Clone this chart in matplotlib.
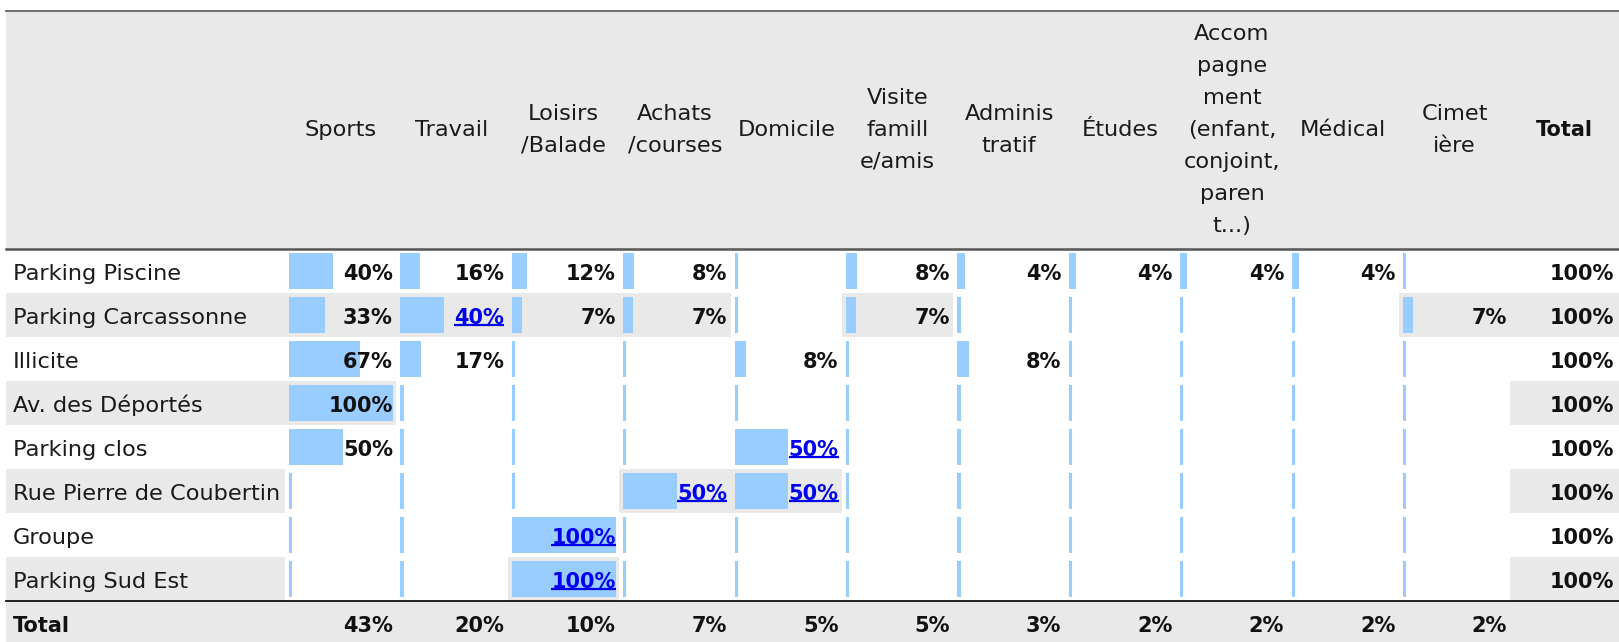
import matplotlib
matplotlib.use("Agg")
import matplotlib.pyplot as plt
import numpy as np

# ---------------- data ----------------
row_labels = ["Parking Piscine", "Parking Carcassonne", "Illicite", "Av. des Déportés",
              "Parking clos", "Rue Pierre de Coubertin", "Groupe", "Parking Sud Est"]
col_labels = ["Sports", "Travail", "Loisirs\n/Balade", "Achats\n/courses", "Domicile",
              "Visite\nfamill\ne/amis", "Adminis\ntratif", "Études",
              "Accom\npagne\nment\n(enfant,\nconjoint,\nparen\nt...)", "Médical", "Cimet\nière"]
sports = [40, 33, 67, 100, 50, 0, 0, 0]
travail = [16, 40, 17, 0, 0, 0, 0, 0]
loisirs = [12, 7, 0, 0, 0, 0, 100, 100]
achats = [8, 7, 0, 0, 0, 50, 0, 0]
domicile = [0, 0, 8, 0, 50, 50, 0, 0]
visite = [8, 7, 0, 0, 0, 0, 0, 0]
administratif = [4, 0, 8, 0, 0, 0, 0, 0]
etudes = [4, 0, 0, 0, 0, 0, 0, 0]
accompagnement = [4, 0, 0, 0, 0, 0, 0, 0]
medical = [4, 0, 0, 0, 0, 0, 0, 0]
cimetiere = [0, 7, 0, 0, 0, 0, 0, 0]
row_totals = [100, 100, 100, 100, 100, 100, 100, 100]
col_totals = [43, 20, 10, 7, 5, 5, 3, 2, 2, 2, 2]
total_label = "Total"
# cells rendered as hyperlinks (row index, column index)
link_cells = [(1, 1), (4, 4), (5, 3), (5, 4), (6, 2), (7, 2)]

columns = [sports, travail, loisirs, achats, domicile, visite, administratif,
           etudes, accompagnement, medical, cimetiere]

# ---------------- layout (pixels) ----------------
W, H = 1619, 642
left_edge = 6
label_x = 13
first_col = 285
col_w = 111.4
ncol = len(columns)
total_col_start = first_col + ncol * col_w
header_top = 10.5
header_bot = 249
row_h = 44
nrow = len(row_labels)
bar_h = 36.5
bar_pad = 4
bar_min = 3.1
bar_scale = 101.0
text_pad = 3.5
text_dy = 2.5

font = "DejaVu Sans"
fs_lab = 16.2
fs_val = 15
gray = "#e9e9e9"
bar_color = "#99ccff"
link_color = "#0000ee"
txt_color = "#1a1a1a"

fig = plt.figure(figsize=(W / 100, H / 100), dpi=100)
ax = fig.add_axes([0, 0, 1, 1])
ax.set_xlim(0, W)
ax.set_ylim(H, 0)
ax.axis("off")

row_centers = header_bot + row_h * (np.arange(nrow) + 0.5)
total_y = header_bot + row_h * nrow

# header background and total row background
ax.barh([(header_top + header_bot) / 2], [W - left_edge], left=left_edge,
        height=header_bot - header_top, color=gray, zorder=0)
ax.barh([total_y + row_h / 2], [W - left_edge], left=left_edge,
        height=row_h, color=gray, zorder=0)

# shaded cells for alternate rows
for i in range(1, nrow, 2):
    yc = row_centers[i]
    ax.barh([yc], [first_col - left_edge], left=left_edge, height=row_h, color=gray, zorder=0)
    ax.barh([yc], [W - total_col_start], left=total_col_start, height=row_h, color=gray, zorder=0)
    for j, col in enumerate(columns):
        if col[i] > 0:
            ax.barh([yc], [col_w], left=first_col + j * col_w, height=row_h,
                    color=gray, zorder=0)

# lines
ax.plot([left_edge, W], [header_top, header_top], color="#666666", lw=1.3, zorder=3)
ax.plot([left_edge, W], [header_bot, header_bot], color="#555555", lw=1.8, zorder=3)
ax.plot([left_edge, W], [total_y, total_y], color="#111111", lw=1.3, zorder=3)

# header text
hy = (header_top + header_bot) / 2
for j, lab in enumerate(col_labels):
    ax.text(first_col + (j + 0.5) * col_w, hy, lab, ha="center", va="center",
            fontsize=fs_lab, family=font, color=txt_color, linespacing=1.75,
            multialignment="center", zorder=4)
ax.text((total_col_start + W) / 2, hy, total_label, ha="center", va="center",
        fontsize=fs_val, family=font, weight="bold", color="#111111", zorder=4)

# row labels
for i, lab in enumerate(row_labels):
    ax.text(label_x, row_centers[i] + text_dy, lab, ha="left", va="center",
            fontsize=fs_lab, family=font, color=txt_color, zorder=4)
ax.text(label_x, total_y + row_h / 2 + text_dy, total_label, ha="left", va="center",
        fontsize=fs_val, family=font, weight="bold", color="#111111", zorder=4)

# bars and values
link_texts = []
for j, col in enumerate(columns):
    vals = np.array(col, dtype=float)
    x0 = first_col + j * col_w
    ax.barh(row_centers, bar_min + vals / 100.0 * bar_scale, left=x0 + bar_pad,
            height=bar_h, color=bar_color, zorder=1)
    for i, v in enumerate(col):
        if v > 0:
            is_link = (i, j) in link_cells
            t = ax.text(x0 + col_w - text_pad, row_centers[i] + text_dy, f"{v}%",
                        ha="right", va="center", fontsize=fs_val, family=font,
                        weight="bold", color=link_color if is_link else "#111111",
                        zorder=5)
            if is_link:
                link_texts.append(t)
    ax.text(x0 + col_w - text_pad, total_y + row_h / 2 + text_dy, f"{col_totals[j]}%",
            ha="right", va="center", fontsize=fs_val, family=font, weight="bold",
            color="#111111", zorder=5)

for i, v in enumerate(row_totals):
    ax.text(W - 5, row_centers[i] + text_dy, f"{v}%", ha="right", va="center",
            fontsize=fs_val, family=font, weight="bold", color="#111111", zorder=5)

# underline link texts
fig.canvas.draw()
renderer = fig.canvas.get_renderer()
inv = ax.transData.inverted()
for t in link_texts:
    bb = t.get_window_extent(renderer)
    (xa, ya), (xb, yb) = inv.transform([[bb.x0, bb.y0], [bb.x1, bb.y1]])
    yline = ya - 2.5
    ax.plot([xa, xb], [yline, yline], color=link_color, lw=1.6, zorder=5,
            solid_capstyle="butt")

fig.savefig("out.png", dpi=100)
